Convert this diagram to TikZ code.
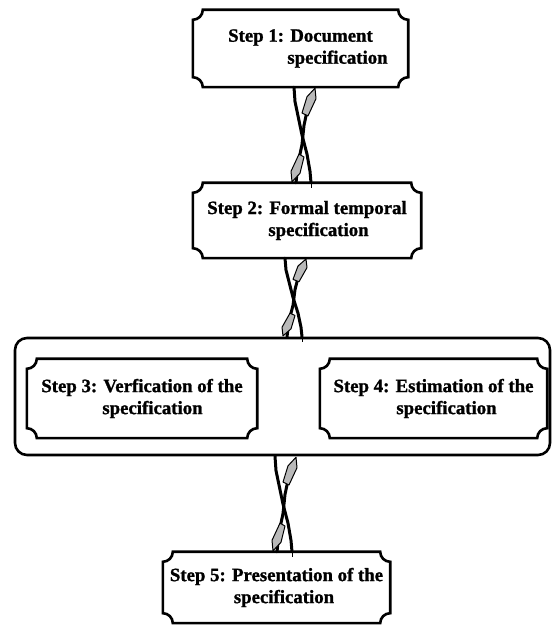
\documentclass[tikz,border=0pt]{standalone}
\usepackage{fontspec}
\setmainfont{Liberation Serif}
\newfontfamily\heavyserif[FakeBold=1.2]{Liberation Serif}
\usetikzlibrary{calc}
\newcommand\nr{10pt}
\newcommand\notchframe[1]{%
  \draw[frame] ([yshift=-\nr]#1.north west) arc[start angle=270,end angle=360,radius=\nr]
    -- ([xshift=-\nr]#1.north east) arc[start angle=180,end angle=270,radius=\nr]
    -- ([yshift=\nr]#1.south east) arc[start angle=90,end angle=180,radius=\nr]
    -- ([xshift=\nr]#1.south west) arc[start angle=0,end angle=90,radius=\nr]
    -- cycle;}
\newcommand\linkpair[2]{%
  \draw[strand] ($(#1)+(-8,0)$) -- ($(#1)!0.15!(#2)+(-7,0)$) -- ($(#1)!0.3!(#2)+(-4,0)$)
    -- ($(#1)!0.5!(#2)+(0,0)$) -- ($(#1)!0.7!(#2)+(5,0)$) -- ($(#1)!0.88!(#2)+(8,0)$) -- ($(#2)+(9,0)$);
  \draw[strand] ($(#1)!0.2!(#2)+(6,0)$) -- ($(#1)!0.4!(#2)+(2,0)$) -- ($(#1)!0.6!(#2)+(0,0)$)
    -- ($(#1)!0.75!(#2)+(-3,0)$) -- ($(#1)!0.9!(#2)+(-5,0)$) -- ($(#2)+(-6,0)$);
  \draw[head] ($(#1)!0.01!(#2)+(13,0)$) -- ($(#1)!0.12!(#2)+(14,0)$) -- ($(#1)!0.3!(#2)+(6,0)$)
    -- ($(#1)!0.27!(#2)+(0,0)$) -- ($(#1)!0.1!(#2)+(5,0)$) -- cycle;
  \draw[head] ($(#1)!0.99!(#2)+(-10,0)$) -- ($(#1)!0.88!(#2)+(-11,0)$) -- ($(#1)!0.7!(#2)+(-3,0)$)
    -- ($(#1)!0.73!(#2)+(2,0)$) -- ($(#1)!0.9!(#2)+(-2,0)$) -- cycle;
  \draw[line width=1pt] ($(#2)+(9,6)$) -- ($(#2)+(9,-5)$);}
\begin{document}
\begin{tikzpicture}[x=1pt,y=1pt,
  frame/.style={line width=2.6pt, line join=miter},
  stepbox/.style={draw=none, inner sep=0pt, align=center,
    font=\heavyserif\bfseries\fontsize{18.8}{22}\selectfont},
  groupbox/.style={draw, line width=2.6pt, rounded corners=12pt, inner sep=0pt},
  strand/.style={line width=3pt, line join=round, line cap=round},
  head/.style={fill=gray!55, draw=black, line width=1pt, line join=round}]
\useasboundingbox (0,0) rectangle (552,630);
\fill[white] (0,0) rectangle (552,630);

\node[groupbox, minimum width=535pt, minimum height=117pt] (grp) at (282.5,233.5) {};

\node[stepbox, minimum width=215pt, minimum height=77pt] (s1) at (300.5,581.5)
  {Step 1: Document\\\hspace*{74pt}specification};
\node[stepbox, minimum width=228pt, minimum height=75pt] (s2) at (307,409.5)
  {Step 2: Formal temporal\\\hspace*{23pt}specification};
\node[stepbox, minimum width=230pt, minimum height=79pt] (s3) at (142,231.5)
  {Step 3: Verfication of the\\\hspace*{21pt}specification};
\node[stepbox, minimum width=227pt, minimum height=79pt] (s4) at (433.5,231.5)
  {Step 4: Estimation of the\\\hspace*{26pt}specification};
\node[stepbox, minimum width=227pt, minimum height=71pt] (s5) at (276.5,42.5)
  {Step 5: Presentation of the\\\hspace*{15pt}specification};

\notchframe{s1}
\notchframe{s2}
\notchframe{s3}
\notchframe{s4}
\notchframe{s5}

\coordinate (c1t) at ($(s1.south)+(1.5,0)$);
\coordinate (c1b) at (c1t |- s2.north);
\coordinate (c2t) at ($(s2.south)+(-14,0)$);
\coordinate (c2b) at (c2t |- grp.north);
\coordinate (c3t) at ($(grp.south)+(0.5,0)$);
\coordinate (c3b) at (c3t |- s5.north);

\linkpair{c1t}{c1b}
\linkpair{c2t}{c2b}
\linkpair{c3t}{c3b}
\end{tikzpicture}
\end{document}
